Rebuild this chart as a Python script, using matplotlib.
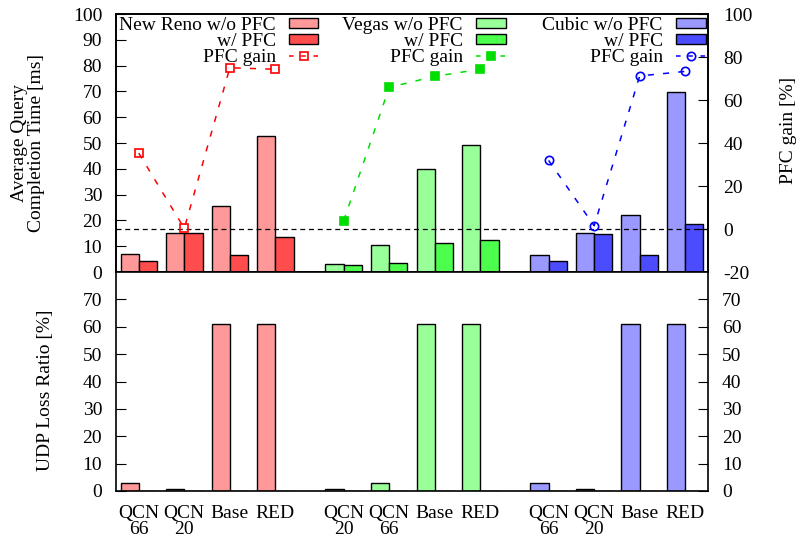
import matplotlib
matplotlib.use("Agg")
import matplotlib.pyplot as plt
from matplotlib.patches import Patch
from matplotlib.lines import Line2D

plt.rcParams['font.family'] = ['Liberation Serif', 'DejaVu Serif']
plt.rcParams['font.size'] = 14
plt.rcParams['axes.unicode_minus'] = False

# categories (x tick labels) per TCP variant group
groups = ["New Reno", "Vegas", "Cubic"]
tick_labels = ["QCN\n66", "QCN\n20", "Base", "RED",
               "QCN\n20", "QCN\n66", "Base", "RED",
               "QCN\n66", "QCN\n20", "Base", "RED"]
x_pos = [0, 1, 2, 3, 4.5, 5.5, 6.5, 7.5, 9, 10, 11, 12]

# average query completion time [ms]
qct_wo = [[6.9, 15.2, 25.5, 52.9], [3.1, 10.5, 39.9, 49.4], [6.6, 15.1, 22.1, 69.8]]
qct_w = [[4.4, 15.2, 6.5, 13.7], [2.8, 3.6, 11.4, 12.6], [4.4, 14.8, 6.5, 18.5]]

# PFC gain [%]
gain = [[35.3, 0.3, 75.0, 74.3], [3.8, 65.9, 71.0, 74.3], [31.9, 1.5, 71.2, 73.3]]

# UDP loss ratio [%]
loss_wo = [[3.0, 0.8, 61, 61], [0.8, 3.0, 61, 61], [3.0, 0.8, 61, 61]]
loss_w = [[0, 0, 0, 0], [0, 0, 0, 0], [0, 0, 0, 0]]

light = ["#ff9999", "#99ff99", "#9999ff"]
dark = ["#ff4c4c", "#4cff4c", "#4c4cff"]
gain_col = ["#ff0000", "#00dd00", "#0000ff"]
gain_mark = ["s", "s", "o"]
gain_fill = ["none", "full", "none"]

fig = plt.figure(figsize=(8.01, 5.45), dpi=100)
ax = fig.add_axes([0.1448, 0.5009, 0.7391, 0.4734])
ax2 = ax.twinx()
axb = fig.add_axes([0.1448, 0.0991, 0.7391, 0.4018])

bw = 0.4
for g in range(3):
    xs = x_pos[g * 4:(g + 1) * 4]
    ax.bar([x - bw / 2 for x in xs], qct_wo[g], bw, color=light[g], edgecolor="black", lw=1)
    ax.bar([x + bw / 2 for x in xs], qct_w[g], bw, color=dark[g], edgecolor="black", lw=1)
    axb.bar([x - bw / 2 for x in xs], loss_wo[g], bw, color=light[g], edgecolor="black", lw=1)
    axb.bar([x + bw / 2 for x in xs], loss_w[g], bw, color=dark[g], edgecolor="black", lw=1)
    ax2.plot(xs, gain[g], color=gain_col[g], ls=(0, (4, 6)), lw=1.1,
             marker=gain_mark[g], ms=6, mew=1.2,
             mfc=gain_col[g] if gain_fill[g] == "full" else "none", zorder=5)

ax2.axhline(0, color="black", ls=(0, (4, 3)), lw=0.9)

ax.set_xlim(-0.5, 12.5)
axb.set_xlim(-0.5, 12.5)
ax.set_ylim(0, 100)
ax2.set_ylim(-20, 100)
axb.set_ylim(0, 80)
ax.set_yticks(range(0, 101, 10))
ax2.set_yticks(range(-20, 101, 20))
axb.set_yticks(range(0, 71, 10))
ax.set_xticks([])
axb.set_xticks(x_pos)
axb.set_xticklabels(tick_labels, linespacing=0.95)

ax.tick_params(axis="y", direction="in", length=7, pad=10, right=False)
ax2.tick_params(axis="y", direction="in", length=7, pad=11)
axb.tick_params(axis="y", direction="in", length=7, pad=10, right=True, labelright=True)
axb.tick_params(axis="x", length=0, pad=10)

for a in (ax, ax2, axb):
    for s in a.spines.values():
        s.set_linewidth(1.2)

# legends, one per variant
names = ["New Reno w/o PFC", "Vegas w/o PFC", "Cubic w/o PFC"]
anchors = [0.342, 0.658, 0.996]
for g in range(3):
    handles = [Patch(facecolor=light[g], edgecolor="black"),
               Patch(facecolor=dark[g], edgecolor="black"),
               Line2D([], [], color=gain_col[g], ls=(0, (3, 5)), lw=1.1,
                      marker=gain_mark[g], ms=6, mew=1.2,
                      mfc=gain_col[g] if gain_fill[g] == "full" else "none")]
    leg = ax2.legend(handles, [names[g], "w/ PFC", "PFC gain"], loc="upper right",
                     bbox_to_anchor=(anchors[g], 0.988), frameon=False, markerfirst=False,
                     borderpad=0, borderaxespad=0, handlelength=1.5, handleheight=0.4,
                     handletextpad=0.7, labelspacing=-0.06, numpoints=1)
    if g < 2:
        ax2.add_artist(leg)

fig.text(0.035, 0.738, "Average Query\nCompletion Time [ms]", rotation=90,
         ha="center", va="center", multialignment="center", linespacing=1.0)
fig.text(0.057, 0.284, "UDP Loss Ratio [%]", rotation=90, ha="center", va="center")
fig.text(0.984, 0.761, "PFC gain [%]", rotation=90, ha="center", va="center")

fig.savefig("out.png", dpi=100)
